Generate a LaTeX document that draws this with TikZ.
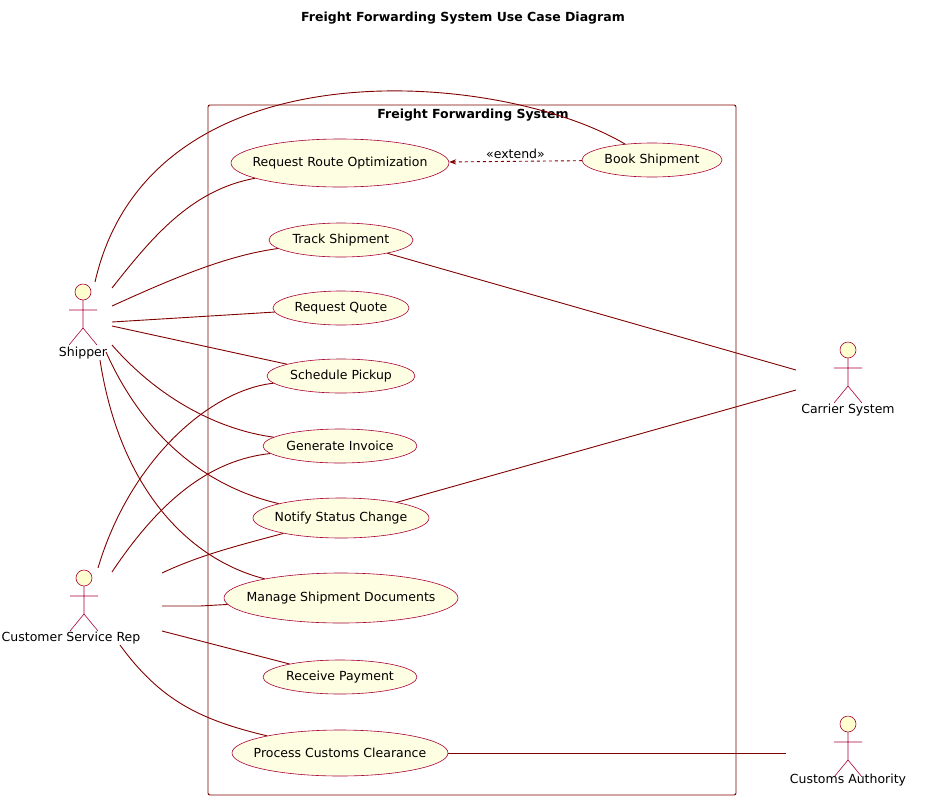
\documentclass[tikz,border=0pt]{standalone}
\usepackage{fontspec}
\setmainfont{DejaVu Sans}
\usetikzlibrary{positioning,calc,arrows.meta,shapes.geometric}
\definecolor{umlred}{HTML}{A80036}
\definecolor{umlline}{HTML}{800000}
\definecolor{umlfill}{HTML}{FEFECE}
\tikzset{
  usecase/.style={ellipse, draw=umlred, fill=umlfill!60!white, line width=0.6pt, inner xsep=-50pt, inner ysep=-4pt, font=\fontsize{12.5}{15}\selectfont},
  link/.style={draw=umlline, line width=0.9pt},
  actorbox/.style={minimum width=60pt, minimum height=70pt, inner sep=0pt},
  lbl/.style={font=\fontsize{12.5}{15}\selectfont}
}
\newcommand{\drawactor}[2]{% #1 x, #2 y of head
  \draw[umlred, fill=umlfill, line width=0.6pt] (#1,#2) circle (8);
  \draw[umlred, line width=0.6pt] (#1,#2+8) -- (#1,#2+36)
    (#1-14,#2+18) -- (#1+14,#2+18)
    (#1-14,#2+53) -- (#1,#2+36) -- (#1+14,#2+53);
}
\begin{document}
\begin{tikzpicture}[x=1pt,y=-1pt]
\useasboundingbox (0,0) rectangle (927,807);
\node[font=\bfseries\fontsize{12.5}{15}\selectfont] (title) at (463,18) {Freight Forwarding System Use Case Diagram};
\draw[umlline, line width=0.9pt, rounded corners=2pt] (208,105) rectangle (736,795);
\node[font=\bfseries\fontsize{12.5}{15}\selectfont] (sys) at (473,115) {Freight Forwarding System};
% use cases
\node[usecase, minimum width=218pt, minimum height=48pt] (rro) at (340,163) {Request Route Optimization};
\node[usecase, minimum width=140pt, minimum height=34pt] (book) at (652,160) {Book Shipment};
\node[usecase, minimum width=144pt, minimum height=34pt] (track) at (341,240) {Track Shipment};
\node[usecase, minimum width=136pt, minimum height=34pt] (quote) at (341,308) {Request Quote};
\node[usecase, minimum width=148pt, minimum height=34pt] (pickup) at (341,376) {Schedule Pickup};
\node[usecase, minimum width=154pt, minimum height=34pt] (invoice) at (340,446) {Generate Invoice};
\node[usecase, minimum width=176pt, minimum height=40pt] (notify) at (341,518) {Notify Status Change};
\node[usecase, minimum width=234pt, minimum height=50pt] (docs) at (341,598) {Manage Shipment Documents};
\node[usecase, minimum width=154pt, minimum height=34pt] (payment) at (340,677) {Receive Payment};
\node[usecase, minimum width=216pt, minimum height=46pt] (customs) at (340,753) {Process Customs Clearance};
% actors
\drawactor{83}{292}
\drawactor{84}{578}
\drawactor{848}{350}
\drawactor{848}{724}
\node[actorbox] (shipper) at (83,318) {};
\node[actorbox] (csr) at (84,604) {};
\node[actorbox] (carrier) at (848,376) {};
\node[actorbox] (authority) at (848,750) {};
\node[lbl] at (83,353) {Shipper};
\node[lbl] at (71,638) {Customer Service Rep};
\node[lbl] at (848,410) {Carrier System};
\node[lbl] at (848,780) {Customs Authority};
% extend
\draw[link, dashed, -{Stealth[length=7pt]}] (book) -- node[above, lbl, yshift=-1pt] {«extend»} (rro);
% shipper links
\draw[link] (95,282) .. controls (150,40) and (500,70) .. (book);
\draw[link] (112,288) .. controls (150,240) and (190,190) .. (rro);
\draw[link] (112,306) .. controls (180,275) and (230,255) .. (track);
\draw[link] (112,322) -- (quote);
\draw[link] (112,326) -- (pickup);
\draw[link] (112,345) .. controls (160,400) and (220,430) .. (invoice);
\draw[link] (106,352) .. controls (150,450) and (220,490) .. (notify);
\draw[link] (100,360) .. controls (120,490) and (190,560) .. (docs);
% customer service rep links
\draw[link] (98,568) .. controls (130,460) and (210,390) .. (pickup);
\draw[link] (112,572) .. controls (160,500) and (210,460) .. (invoice);
\draw[link] (162,573) .. controls (200,555) and (240,545) .. (notify);
\draw[link] (162,606) -- (200,606) -- (docs);
\draw[link] (162,631) -- (payment);
\draw[link] (120,645) .. controls (160,700) and (200,720) .. (customs);
% external systems
\draw[link] (track) -- (796,370);
\draw[link] (notify) -- (796,390);
\draw[link] (customs) -- (786,753);
\end{tikzpicture}
\end{document}
